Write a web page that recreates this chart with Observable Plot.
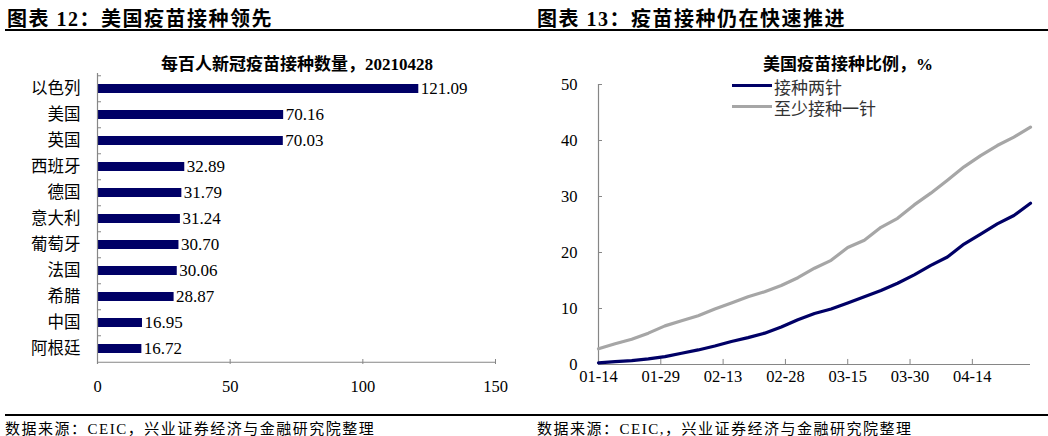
<!DOCTYPE html>
<html>
<head>
<meta charset="utf-8">
<script src="https://cdn.jsdelivr.net/npm/d3@7"></script>
<script src="https://cdn.jsdelivr.net/npm/@observablehq/plot@0.6"></script>
<style>
  html, body { margin: 0; padding: 0; background: #fff; }
  #root { position: relative; width: 1048px; height: 436px; overflow: hidden;
          font-family: "Liberation Serif", "Noto Sans CJK SC", serif; color: #000; }
  .abs { position: absolute; white-space: nowrap; }
  .ptitle { font-size: 20px; font-weight: bold; top: 3px; letter-spacing: 1.5px; }
  .ctitle { font-size: 17px; font-weight: bold; top: 50px; transform: translateX(-50%); }
  .rule { position: absolute; height: 1.5px; background: #000; }
  .src { font-size: 15px; top: 417px; letter-spacing: 1.5px; }
  .leg { font-size: 17px; color: #333; }
  .legline { position: absolute; height: 3px; width: 40px; }
</style>
</head>
<body>
<div id="root">
  <div class="abs ptitle" style="left:7px">图表 12：美国疫苗接种领先</div>
  <div class="abs ptitle" style="left:537px">图表 13：疫苗接种仍在快速推进</div>
  <div class="rule" style="left:5px; width:1043px; top:29px"></div>
  <div class="abs ctitle" style="left:297px">每百人新冠疫苗接种数量，20210428</div>
  <div class="abs ctitle" style="left:848px">美国疫苗接种比例，%</div>
  <div class="legline" style="left:732px; top:84px; background:#000066"></div>
  <div class="abs leg" style="left:774px; top:74px">接种两针</div>
  <div class="legline" style="left:732px; top:105px; background:#a6a6a6"></div>
  <div class="abs leg" style="left:774px; top:95px">至少接种一针</div>
  <div id="left" class="abs" style="left:0; top:40px"></div>
  <div id="right" class="abs" style="left:520px; top:40px"></div>
  <div class="rule" style="left:5px; width:1043px; top:414px"></div>
  <div class="abs src" style="left:5px">数据来源：CEIC，兴业证券经济与金融研究院整理</div>
  <div class="abs src" style="left:537px">数据来源：CEIC,，兴业证券经济与金融研究院整理</div>
</div>
<script>
// ---- Left chart data ----
const countries = ["以色列", "美国", "英国", "西班牙", "德国", "意大利", "葡萄牙", "法国", "希腊", "中国", "阿根廷"];
const dosesPer100 = [121.09, 70.16, 70.03, 32.89, 31.79, 31.24, 30.70, 30.06, 28.87, 16.95, 16.72];
const barTicks = [0, 50, 100, 150];

// ---- Right chart data ----
const dateLabels = ["01-14","01-18","01-22","01-26","01-30","02-03","02-07","02-11","02-15","02-19","02-23","02-27",
  "03-03","03-07","03-11","03-15","03-19","03-23","03-27","03-31","04-04","04-08","04-12","04-16","04-20","04-24","04-28"];
const twoDoses = [0.3, 0.5, 0.7, 1.0, 1.4, 2.0, 2.6, 3.3, 4.1, 4.8, 5.6, 6.7,
  8.0, 9.1, 9.9, 11.0, 12.1, 13.2, 14.5, 16.0, 17.7, 19.2, 21.5, 23.3, 25.1, 26.6, 28.8];
const atLeastOne = [2.8, 3.7, 4.5, 5.6, 6.9, 7.8, 8.7, 9.9, 11.0, 12.1, 13.0, 14.1,
  15.5, 17.2, 18.6, 20.9, 22.2, 24.5, 26.1, 28.5, 30.6, 32.9, 35.3, 37.3, 39.1, 40.6, 42.4];
const dateTickLabels = ["01-14", "01-29", "02-13", "02-28", "03-15", "03-30", "04-14"];
const yTicks = [0, 10, 20, 30, 40, 50];

const FONT = '"Liberation Serif", "Noto Sans CJK SC", serif';
const AXIS = "#868686";

// ---- Left: bar chart ----
const barData = countries.map((c, i) => ({c, v: dosesPer100[i]}));
const L = {w: 520, h: 360, ml: 97, mr: 25, mt: 33, mb: 36};
const fh = L.h - L.mt - L.mb;
const step = fh / countries.length;
const left = Plot.plot({
  width: L.w, height: L.h,
  marginLeft: L.ml, marginRight: L.mr, marginTop: L.mt, marginBottom: L.mb,
  style: {fontFamily: FONT, fontSize: "16px", color: "#000", background: "transparent", overflow: "visible"},
  x: {domain: [0, 150]},
  y: {domain: countries, paddingInner: 0.66, paddingOuter: 0.33},
  marks: [
    Plot.barX(barData, {x: "v", y: "c", fill: "#000066"}),
    Plot.text(barData, {x: "v", y: "c", text: d => d.v.toFixed(2), textAnchor: "start", dx: 2, fontSize: 17, fill: "#000"}),
    Plot.ruleX([0], {stroke: AXIS, strokeWidth: 1.2}),
    Plot.ruleY([countries[countries.length - 1]], {dy: step / 2, stroke: AXIS, strokeWidth: 1.2}),
    Plot.ruleY(countries, {dy: -step / 2, stroke: AXIS, insetRight: (L.w - L.ml - L.mr) - 4}),
    Plot.ruleX(barTicks.slice(1), {stroke: AXIS, insetTop: fh - 5}),
    Plot.axisY({tickSize: 0, tickPadding: 17, fontSize: 16.5, label: null}),
    Plot.axisX({ticks: barTicks, tickSize: 0, tickPadding: 16, fontSize: 16.5, label: null, tickFormat: d => String(d)})
  ]
});
document.getElementById("left").appendChild(left);

// ---- Right: line chart ----
const parse = s => new Date(Date.UTC(2021, +s.slice(0, 2) - 1, +s.slice(3, 5)));
const lineData = [
  ...dateLabels.map((d, i) => ({date: parse(d), v: atLeastOne[i], s: "至少接种一针"})),
  ...dateLabels.map((d, i) => ({date: parse(d), v: twoDoses[i], s: "接种两针"}))
];
const tickDates = dateTickLabels.map(parse);
const R = {w: 528, h: 360, ml: 78, mr: 18, mt: 44, mb: 36};
const rfw = R.w - R.ml - R.mr;
const right = Plot.plot({
  width: R.w, height: R.h,
  marginLeft: R.ml, marginRight: R.mr, marginTop: R.mt, marginBottom: R.mb,
  style: {fontFamily: FONT, fontSize: "16px", color: "#000", background: "transparent", overflow: "visible"},
  x: {type: "utc", domain: [parse("01-14"), parse("04-28")]},
  y: {domain: [0, 50]},
  color: {domain: ["接种两针", "至少接种一针"], range: ["#000066", "#a6a6a6"]},
  marks: [
    Plot.ruleX([parse("01-14")], {stroke: AXIS, strokeWidth: 1.2}),
    Plot.ruleY([0], {stroke: AXIS, strokeWidth: 1.2}),
    Plot.ruleY(yTicks.slice(1), {stroke: AXIS, insetRight: rfw - 4}),
    Plot.ruleX(tickDates.slice(1), {y1: 0, y2: 0.9, stroke: AXIS}),
    Plot.line(lineData, {x: "date", y: "v", z: "s", stroke: "s", strokeWidth: 3.2, curve: "linear"}),
    Plot.axisY({ticks: yTicks, tickSize: 0, tickPadding: 21, fontSize: 16.5, label: null}),
    Plot.axisX({ticks: tickDates, tickSize: 0, tickPadding: 6, fontSize: 16.5, label: null,
                tickFormat: d => dateTickLabels[tickDates.findIndex(t => +t === +d)]})
  ]
});
document.getElementById("right").appendChild(right);
</script>
</body>
</html>
